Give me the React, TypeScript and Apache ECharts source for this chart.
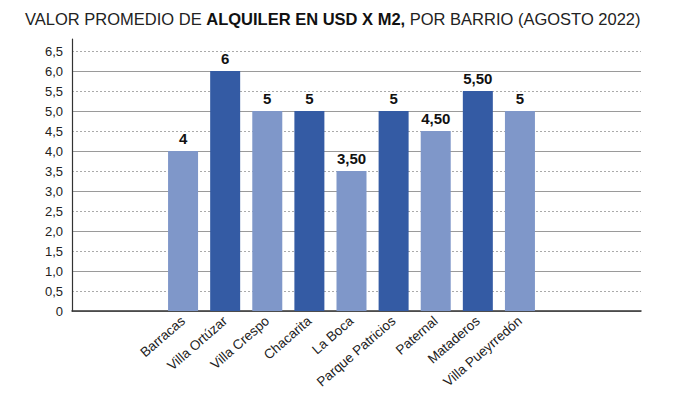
import React, { useEffect, useRef } from "react";
import * as echarts from "echarts";

const categories = [
  "Barracas",
  "Villa Ortúzar",
  "Villa Crespo",
  "Chacarita",
  "La Boca",
  "Parque Patricios",
  "Paternal",
  "Mataderos",
  "Villa Pueyrredón",
];
const values = [4, 6, 5, 5, 3.5, 5, 4.5, 5.5, 5];
const barColors = [
  "#7f97c9",
  "#345ba4",
  "#7f97c9",
  "#345ba4",
  "#7f97c9",
  "#345ba4",
  "#7f97c9",
  "#345ba4",
  "#7f97c9",
];
const yMin = 0;
const yMax = 6.8;
const FONT = "'Liberation Sans', Arial, Helvetica, sans-serif";

const fmtValue = (v: number) =>
  Number.isInteger(v) ? String(v) : v.toFixed(2).replace(".", ",");

export default function App() {
  const ref = useRef<HTMLDivElement>(null);
  useEffect(() => {
    if (!ref.current) return;
    const chart = echarts.init(ref.current, undefined, { renderer: "svg" });
    chart.setOption({
      animation: false,
      backgroundColor: "#ffffff",
      textStyle: { fontFamily: FONT },
      title: {
        text: "{n|VALOR PROMEDIO DE }{b|ALQUILER EN USD X M2,}{n| POR BARRIO (AGOSTO 2022)}",
        left: 23,
        top: 8,
        padding: [2, 2],
        textStyle: {
          rich: {
            n: { fontFamily: FONT, fontSize: 16.5, fontWeight: "normal", color: "#222" },
            b: { fontFamily: FONT, fontSize: 16.5, fontWeight: "bold", color: "#111" },
          },
        },
      },
      grid: [
        { left: 72, right: 34, top: 39, bottom: 82 },
        { left: 162, right: 134, top: 39, bottom: 82 },
      ],
      xAxis: [
        {
          type: "category",
          gridIndex: 0,
          data: [""],
          axisLine: { show: true, lineStyle: { color: "#333", width: 1.5 } },
          axisTick: { show: false },
          axisLabel: { show: false },
          splitLine: { show: false },
        },
        {
          type: "category",
          gridIndex: 1,
          data: categories,
          axisLine: { show: false },
          axisTick: { show: false },
          axisLabel: {
            rotate: 41,
            fontSize: 13.5,
            color: "#222",
            fontFamily: FONT,
            margin: 8,
            interval: 0,
          },
        },
      ],
      yAxis: [
        {
          type: "value",
          gridIndex: 0,
          min: yMin,
          max: yMax,
          interval: 0.5,
          axisLine: { show: true, lineStyle: { color: "#333", width: 1.2 } },
          axisTick: { show: false },
          axisLabel: {
            fontSize: 13,
            color: "#222",
            fontFamily: FONT,
            margin: 9,
            showMaxLabel: false,
            formatter: (v: number) =>
              Math.abs(v * 2 - Math.round(v * 2)) > 1e-6
                ? ""
                : v === 0
                ? "0"
                : v.toFixed(1).replace(".", ","),
          },
          splitLine: {
            show: true,
            showMaxLine: false,
            lineStyle: { color: "#aaa", type: [2, 2], width: 1 },
          },
        },
        {
          type: "value",
          gridIndex: 0,
          min: yMin,
          max: yMax,
          interval: 1,
          position: "left",
          axisLine: { show: false },
          axisTick: { show: false },
          axisLabel: { show: false },
          splitLine: {
            show: true,
            showMaxLine: false,
            lineStyle: { color: "#9a9a9a", type: "solid", width: 1.2 },
          },
        },
        {
          type: "value",
          gridIndex: 1,
          min: yMin,
          max: yMax,
          show: false,
          splitLine: { show: false },
        },
      ],
      series: [
        {
          type: "bar",
          xAxisIndex: 1,
          yAxisIndex: 2,
          barWidth: 30,
          data: values.map((v, i) => ({ value: v, itemStyle: { color: barColors[i] } })),
          label: {
            show: true,
            position: "top",
            distance: 5,
            fontSize: 15,
            fontWeight: "bold",
            color: "#111",
            fontFamily: FONT,
            formatter: (p: any) => fmtValue(p.value),
          },
        },
      ],
    });
    return () => chart.dispose();
  }, []);
  return (
    <div
      ref={ref}
      style={{ position: "fixed", left: 0, top: 0, width: 675, height: 393, background: "#fff" }}
    />
  );
}
